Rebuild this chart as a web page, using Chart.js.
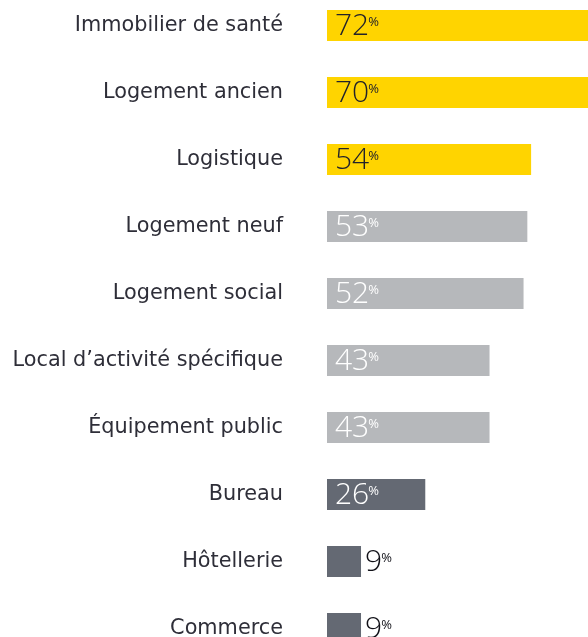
<!DOCTYPE html>
<html>
<head>
<meta charset="utf-8">
<script src="https://cdn.jsdelivr.net/npm/chart.js@4"></script>
<style>
  html, body { margin: 0; padding: 0; background: #fff; overflow: hidden; }
  body { width: 588px; height: 637px; position: relative; }
  #chart { position: absolute; left: 0; top: -8px; }
</style>
</head>
<body>
<canvas id="chart" width="588" height="670"></canvas>
<script>
const categories = ['Immobilier de santé', 'Logement ancien', 'Logistique', 'Logement neuf', 'Logement social',
  'Local d\u2019activité spécifique', 'Équipement public', 'Bureau', 'Hôtellerie', 'Commerce'];
const values = [72, 70, 54, 53, 52, 43, 43, 26, 9, 9];

const yellow = '#ffd400', light = '#b6b8bb', dark = '#646973';
const barColors = [yellow, yellow, yellow, light, light, light, light, dark, dark, dark];
const labelColors = ['#22222a', '#22222a', '#22222a', '#fff', '#fff', '#fff', '#fff', '#fff', '#111118', '#111118'];

const valueLabels = {
  id: 'valueLabels',
  afterDatasetsDraw(chart) {
    const ctx = chart.ctx;
    const meta = chart.getDatasetMeta(0);
    ctx.save();
    meta.data.forEach((bar, i) => {
      const inside = (bar.x - bar.base) > 60;
      const x = inside ? bar.base + 8 : bar.x + 4;
      ctx.fillStyle = labelColors[i];
      ctx.font = '300 30px "Open Sans"';
      ctx.textAlign = 'left';
      ctx.textBaseline = 'middle';
      const txt = String(values[i]);
      ctx.fillText(txt, x, bar.y + 1);
      const w = ctx.measureText(txt).width;
      ctx.font = '400 13px "Open Sans"';
      ctx.textBaseline = 'top';
      ctx.fillText('%', x + w - 1, bar.y - 10);
    });
    ctx.restore();
  }
};

new Chart(document.getElementById('chart'), {
  type: 'bar',
  data: {
    labels: categories,
    datasets: [{
      data: values,
      backgroundColor: barColors,
      borderWidth: 0,
      barPercentage: 0.463,
      categoryPercentage: 1
    }]
  },
  options: {
    indexAxis: 'y',
    responsive: false,
    animation: false,
    layout: { padding: 0 },
    plugins: { legend: { display: false }, tooltip: { enabled: false } },
    scales: {
      x: {
        display: false,
        min: 0,
        max: 69.05
      },
      y: {
        border: { display: false },
        grid: { display: false, drawTicks: false },
        afterFit(scale) {
          scale.width = 327;
          scale.paddingTop = 0;
          scale.paddingBottom = 0;
        },
        ticks: {
          padding: 44,
          color: '#2e2e38',
          font: { family: '"DejaVu Sans"', size: 20.8 }
        }
      }
    }
  },
  plugins: [valueLabels]
});
</script>
</body>
</html>
